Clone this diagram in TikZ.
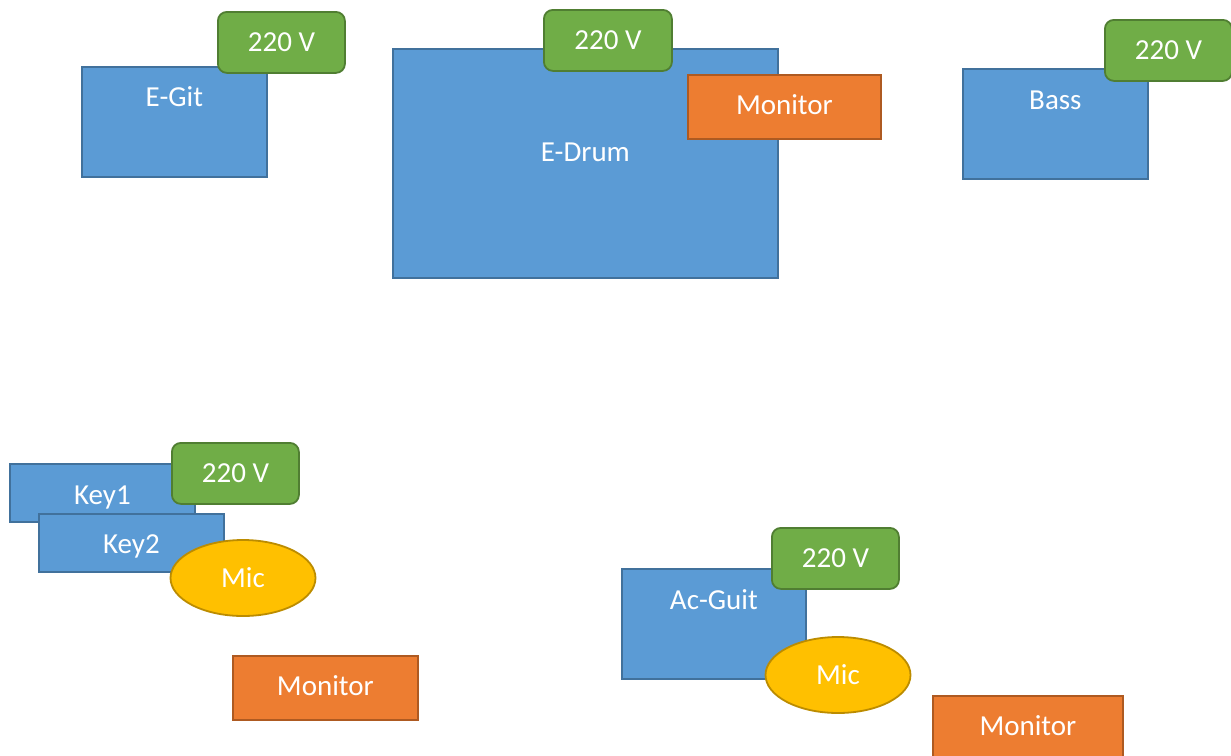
\documentclass[tikz,border=0pt]{standalone}
\usepackage{fontspec}
\setmainfont{Carlito}
\usetikzlibrary{shapes.geometric}
\definecolor{bluefill}{HTML}{5B9BD5}
\definecolor{blueline}{HTML}{41719C}
\definecolor{greenfill}{HTML}{70AD47}
\definecolor{greenline}{HTML}{507E32}
\definecolor{orangefill}{HTML}{ED7D31}
\definecolor{orangeline}{HTML}{AE5A21}
\definecolor{yellowfill}{HTML}{FFC000}
\definecolor{yellowline}{HTML}{BC8C00}
\tikzset{
  txt/.style={text=white, font=\fontsize{29}{35}\selectfont},
  inst/.style={draw=blueline, fill=bluefill, line width=1.8pt, anchor=north west, inner sep=0pt},
  lab/.style={txt, anchor=center, inner sep=0pt},
  power/.style={txt, draw=greenline, fill=greenfill, line width=1.8pt, rounded corners=9pt,
    anchor=north west, inner sep=0pt, minimum width=127pt, minimum height=61pt},
  monbox/.style={txt, draw=orangeline, fill=orangefill, line width=1.8pt, anchor=north west,
    inner sep=0pt, minimum width=191pt, minimum height=64pt, text depth=4pt},
  mic/.style={txt, ellipse, draw=yellowline, fill=yellowfill, line width=1.8pt, inner sep=0pt,
    minimum width=145pt, minimum height=76pt}
}
\begin{document}
\begin{tikzpicture}[x=1pt,y=-1pt]
\useasboundingbox (0,0) rectangle (1231,755);
% E-Git
\node[inst, minimum width=185pt, minimum height=110pt,
  label={[lab,yshift=-31pt]north:E-Git}] (egit) at (81,66) {};
\node[power] (egitpow) at (217,11) {220 V};
% E-Drum
\node[inst, minimum width=385pt, minimum height=229pt,
  label={[lab,yshift=-104pt]north:E-Drum}] (edrum) at (392,48) {};
\node[power, minimum width=128pt] (edrumpow) at (543,9) {220 V};
\node[monbox, minimum width=193pt] (edrummon) at (687,74) {Monitor};
% Bass
\node[inst, minimum width=185pt, minimum height=110pt,
  label={[lab,yshift=-32pt]north:Bass}] (bass) at (962,68) {};
\node[power] (basspow) at (1104,19) {220 V};
% Keys
\node[inst, minimum width=185pt, minimum height=58pt,
  label={[lab,yshift=-34pt]north:Key1}] (key1) at (9,463) {};
\node[inst, minimum width=185pt, minimum height=58pt,
  label={[lab,yshift=-33pt]north:Key2}] (key2) at (38,513) {};
\node[power] (keypow) at (171,442) {220 V};
\node[mic] (keymic) at (243,578) {Mic};
\node[monbox, minimum width=185pt] (keymon) at (232,655) {Monitor};
% Ac-Guit
\node[inst, minimum width=184pt, minimum height=110pt,
  label={[lab,yshift=-32pt]north:Ac-Guit}] (acguit) at (621,568) {};
\node[power] (acpow) at (771,527) {220 V};
\node[mic] (acmic) at (838,675) {Mic};
\node[monbox, minimum width=190pt] (acmon) at (932,695) {Monitor};
\end{tikzpicture}
\end{document}
